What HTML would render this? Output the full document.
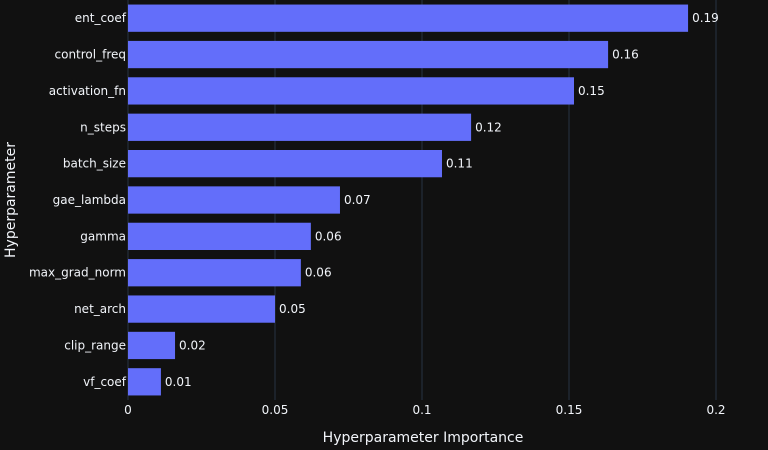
<!DOCTYPE html>
<html><head><meta charset="utf-8"><style>
html,body{margin:0;padding:0;background:#111111;}
svg{display:block;font-family:"DejaVu Sans","Liberation Sans",sans-serif;}
</style></head><body>
<svg id="chart" width="768" height="450">
<rect width="768" height="450" fill="#111111"/>
<g id="grid"></g>
<g id="bars"></g>
<g id="ylabels"></g>
<g id="xlabels"></g>
<text x="423" y="442" text-anchor="middle" fill="#f2f5fa" font-size="14">Hyperparameter Importance</text>
<text x="15" y="200" text-anchor="middle" fill="#f2f5fa" font-size="14" transform="rotate(-90 15 200)">Hyperparameter</text>
</svg>
<script>
const categories = ["ent_coef","control_freq","activation_fn","n_steps","batch_size","gae_lambda","gamma","max_grad_norm","net_arch","clip_range","vf_coef"];
const values = [0.1905,0.1633,0.1517,0.1167,0.1068,0.0721,0.0622,0.0588,0.0500,0.0160,0.0112];
const valueLabels = ["0.19","0.16","0.15","0.12","0.11","0.07","0.06","0.06","0.05","0.02","0.01"];
const xTicks = [0,0.05,0.1,0.15,0.2];
const xTickLabels = ["0","0.05","0.1","0.15","0.2"];

const NS="http://www.w3.org/2000/svg";
const x0=128, xScale=2940, plotTop=0, plotBottom=400;
const step=(plotBottom-plotTop)/categories.length;
const xPos=v=>x0+v*xScale;
const yPos=i=>plotTop+step*(i+0.5);
function mk(tag,attrs,parent,text){const e=document.createElementNS(NS,tag);for(const k in attrs)e.setAttribute(k,attrs[k]);if(text!==undefined)e.textContent=text;document.getElementById(parent).appendChild(e);return e;}

xTicks.forEach((t,i)=>{
  const g=mk("line",{x1:xPos(t),x2:xPos(t),y1:plotTop,y2:plotBottom,stroke:"#283442","stroke-width":1},"grid");
  
  
  const l=mk("text",{x:xPos(t),y:414,"text-anchor":"middle",fill:"#f2f5fa","font-size":12},"xlabels",xTickLabels[i]);
  
  
});
const bh=step*0.75;
categories.forEach((c,i)=>{
  const y=yPos(i);
  const r=mk("rect",{x:x0,y:y-bh/2,width:xPos(values[i])-x0,height:bh,fill:"#636efa"},"bars");
  
  
  const v=mk("text",{x:xPos(values[i])+4,y:y+4,fill:"#f2f5fa","font-size":12},"bars",valueLabels[i]);
  
  
  const t=mk("text",{x:x0-2,y:y+4,"text-anchor":"end",fill:"#f2f5fa","font-size":12},"ylabels",c);
  
  
});
</script>
</body></html>
